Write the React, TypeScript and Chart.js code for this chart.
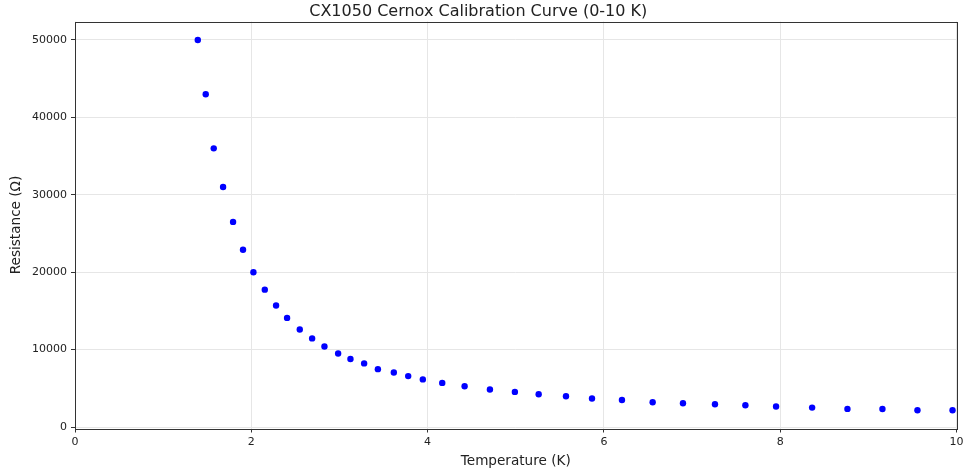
import React, { useEffect, useRef } from "react";
import { Chart, registerables } from "chart.js";

Chart.register(...registerables);

const temperatures = [
  1.393, 1.483, 1.574, 1.68, 1.793, 1.906, 2.024, 2.153, 2.281, 2.406, 2.55, 2.69,
  2.83, 2.985, 3.125, 3.28, 3.436, 3.617, 3.78, 3.946, 4.166, 4.42, 4.707, 4.99,
  5.26, 5.57, 5.865, 6.205, 6.553, 6.897, 7.26, 7.605, 7.953, 8.362, 8.763, 9.16,
  9.557, 9.955,
];
const resistances = [
  50000, 43000, 36000, 31000, 26500, 22900, 20000, 17750, 15700, 14100, 12600, 11450,
  10400, 9500, 8780, 8220, 7480, 7050, 6580, 6150, 5700, 5270, 4850, 4540,
  4240, 3980, 3690, 3500, 3210, 3070, 2940, 2810, 2650, 2510, 2340, 2330,
  2170, 2160,
];
const xTicks = [0, 2, 4, 6, 8, 10];
const yTicks = [0, 10000, 20000, 30000, 40000, 50000];

const FONT = "'DejaVu Sans', sans-serif";

const frame = {
  id: "frame",
  afterDraw(chart: any) {
    const { ctx, chartArea } = chart;
    ctx.save();
    ctx.strokeStyle = "#333";
    ctx.lineWidth = 1;
    ctx.strokeRect(
      Math.round(chartArea.left) + 0.5,
      Math.round(chartArea.top) + 0.5,
      Math.round(chartArea.right - chartArea.left),
      Math.round(chartArea.bottom - chartArea.top)
    );
    ctx.restore();
  },
};

export default function App() {
  const ref = useRef<HTMLCanvasElement>(null);
  useEffect(() => {
    document.body.style.margin = "0";
    const chart = new Chart(ref.current!, {
      type: "scatter",
      data: {
        datasets: [
          {
            data: temperatures.map((t, i) => ({ x: t, y: resistances[i] })),
            backgroundColor: "#0000ff",
            borderWidth: 0,
            pointRadius: 3.2,
          },
        ],
      },
      options: {
        animation: false,
        responsive: false,
        layout: { padding: { left: 0, right: 6.5, top: 0, bottom: 0 } },
        plugins: {
          legend: { display: false },
          tooltip: { enabled: false },
          title: {
            display: true,
            text: "CX1050 Cernox Calibration Curve (0-10 K)",
            color: "#222",
            font: { family: FONT, size: 16, weight: "normal", lineHeight: 1 },
            padding: { top: 3.5, bottom: 2 },
          },
        },
        scales: {
          x: {
            type: "linear",
            min: 0,
            max: 10,
            afterBuildTicks: (s: any) => {
              s.ticks = xTicks.map((v) => ({ value: v }));
            },
            afterFit: (s: any) => {
              s.height = 44.5;
              s.paddingLeft = 0;
              s.paddingRight = 0;
            },
            ticks: {
              color: "#222",
              font: { family: FONT, size: 11 },
              padding: 3,
              maxRotation: 0,
            },
            grid: { color: "#e6e6e6", tickColor: "#333", tickLength: 4 },
            border: { display: false },
            title: {
              display: true,
              text: "Temperature (K)",
              color: "#222",
              font: { family: FONT, size: 13.6 },
              padding: { top: 0, bottom: 3 },
            },
          },
          y: {
            type: "linear",
            min: -190,
            max: 52390,
            afterBuildTicks: (s: any) => {
              s.ticks = yTicks.map((v) => ({ value: v }));
            },
            afterFit: (s: any) => {
              s.width = 75;
              s.paddingTop = 0;
              s.paddingBottom = 0;
            },
            ticks: {
              color: "#222",
              font: { family: FONT, size: 11 },
              padding: 4,
              callback: (v: any) => String(v),
            },
            grid: { color: "#e6e6e6", tickColor: "#333", tickLength: 4 },
            border: { display: false },
            title: {
              display: true,
              text: "Resistance (Ω)",
              color: "#222",
              font: { family: FONT, size: 13.6 },
              padding: { top: 8.5, bottom: 0 },
            },
          },
        },
      },
      plugins: [frame],
    });
    return () => chart.destroy();
  }, []);
  return (
    <div style={{ position: "absolute", left: 0, top: 0, width: 963, height: 473 }}>
      <canvas ref={ref} width={963} height={473} style={{ display: "block" }} />
    </div>
  );
}
